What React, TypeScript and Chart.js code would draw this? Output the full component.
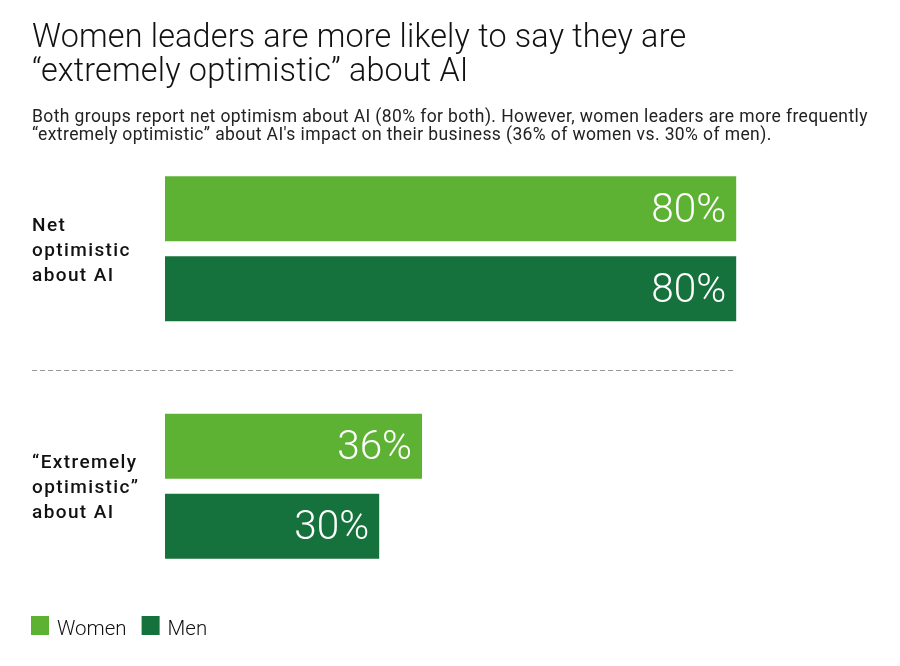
import React, { useEffect, useRef } from "react";
import { Chart, registerables } from "chart.js";

Chart.register(...registerables);

// Survey data
const categories: string[][] = [
  ["Net", "optimistic", "about AI"],
  ["\u201CExtremely", "optimistic\u201D", "about AI"],
];
const seriesNames = ["Women", "Men"];
const womenValues = [80, 36];
const menValues = [80, 30];
const seriesColors = ["#5db234", "#16723c"];

const titleLines = [
  "Women leaders are more likely to say they are",
  "\u201Cextremely optimistic\u201D about AI",
];
const subtitleLines = [
  "Both groups report net optimism about AI (80% for both). However, women leaders are more frequently",
  "\u201Cextremely optimistic\u201D about AI's impact on their business (36% of women vs. 30% of men).",
];

const FONT = "Roboto, 'Noto Sans', Arial, sans-serif";

const decorPlugin = {
  id: "decor",
  afterDatasetsDraw(chart: any) {
    const ctx: any = chart.ctx;
    const yScale = chart.scales.y;
    ctx.save();

    // Title
    ctx.fillStyle = "#111111";
    ctx.textAlign = "left";
    ctx.textBaseline = "alphabetic";
    ctx.letterSpacing = "0.2px";
    ctx.font = `300 32.3px ${FONT}`;
    titleLines.forEach((t, i) => ctx.fillText(t, 32, 47 + i * 34));

    // Subtitle
    ctx.fillStyle = "#222222";
    ctx.letterSpacing = "0.4px";
    ctx.font = `400 17.5px ${FONT}`;
    subtitleLines.forEach((t, i) => ctx.fillText(t, 32, 121.5 + i * 18.5));

    // Category labels
    ctx.fillStyle = "#111111";
    ctx.letterSpacing = "1.4px";
    ctx.font = `500 19px ${FONT}`;
    categories.forEach((lines, ci) => {
      const cy = yScale.getPixelForValue(ci);
      lines.forEach((ln, li) => ctx.fillText(ln, 32, cy + 7 + (li - 1) * 25));
    });
    ctx.letterSpacing = "0px";

    // Divider between groups
    ctx.strokeStyle = "#9a9a9a";
    ctx.lineWidth = 1;
    ctx.setLineDash([5, 3]);
    ctx.beginPath();
    ctx.moveTo(32, 370.5);
    ctx.lineTo(733, 370.5);
    ctx.stroke();
    ctx.setLineDash([]);

    // Value labels inside bar ends
    ctx.fillStyle = "#ffffff";
    ctx.font = `300 40.5px ${FONT}`;
    ctx.textAlign = "right";
    chart.data.datasets.forEach((ds: any, di: number) => {
      const meta = chart.getDatasetMeta(di);
      meta.data.forEach((bar: any, i: number) => {
        ctx.fillText(`${ds.data[i]}%`, bar.x - 10, bar.y + 13);
      });
    });

    // Legend
    ctx.textAlign = "left";
    ctx.font = `300 20.5px ${FONT}`;
    let lx = 31;
    chart.data.datasets.forEach((ds: any) => {
      ctx.fillStyle = ds.backgroundColor;
      ctx.fillRect(lx, 616, 18, 19);
      ctx.fillStyle = "#111111";
      ctx.fillText(ds.label, lx + 26, 635);
      lx += 26 + ctx.measureText(ds.label).width + 15;
    });

    ctx.restore();
  },
};

export default function App() {
  const canvasRef = useRef<HTMLCanvasElement | null>(null);

  useEffect(() => {
    if (!canvasRef.current) return;
    const chart = new Chart(canvasRef.current, {
      type: "bar",
      data: {
        labels: categories.map((c) => c.join(" ")),
        datasets: [
          {
            label: seriesNames[0],
            data: womenValues,
            backgroundColor: seriesColors[0],
          },
          {
            label: seriesNames[1],
            data: menValues,
            backgroundColor: seriesColors[1],
          },
        ],
      },
      options: {
        indexAxis: "y",
        responsive: false,
        animation: false,
        datasets: { bar: { categoryPercentage: 0.6737, barPercentage: 0.8125 } },
        layout: { padding: { left: 165, right: 21, top: 130, bottom: 61 } },
        scales: {
          x: { display: false, min: 0, max: 100 },
          y: { display: false },
        },
        plugins: {
          legend: { display: false },
          tooltip: { enabled: false },
        },
      },
      plugins: [decorPlugin],
    });
    return () => chart.destroy();
  }, []);

  return (
    <div style={{ position: "absolute", left: 0, top: 0, width: 900, height: 666, background: "#ffffff" }}>
      <canvas ref={canvasRef} width={900} height={666} />
    </div>
  );
}
